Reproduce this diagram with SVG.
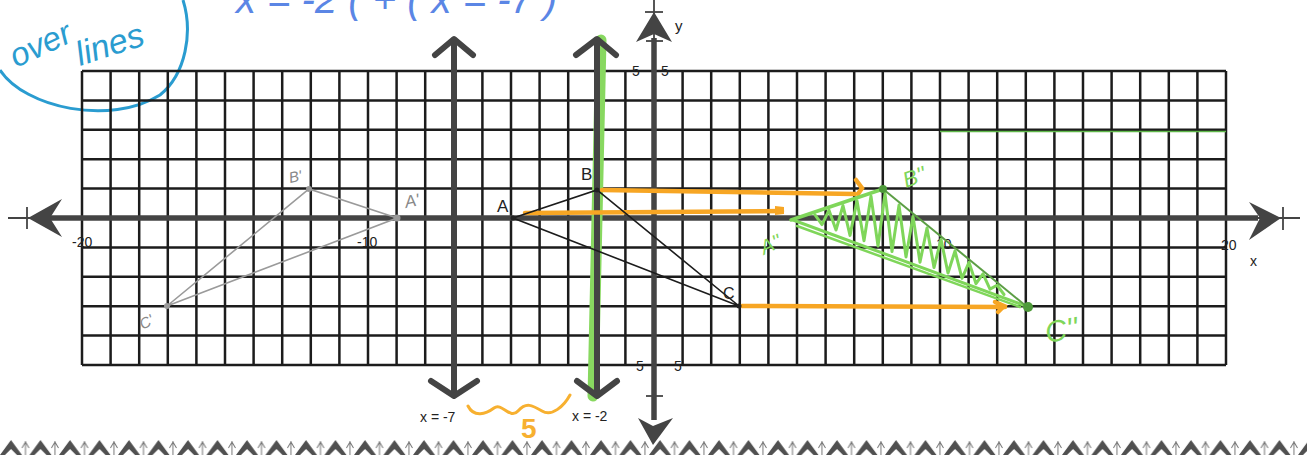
<svg xmlns="http://www.w3.org/2000/svg" width="1307" height="455" viewBox="0 0 1307 455">
<style>
.lbl{font-family:"Liberation Sans",Arial,sans-serif;fill:#222;}
.hand{font-family:"Liberation Sans",Arial,sans-serif;font-style:italic;}
.grid{fill:none;stroke:#1c1c1c;stroke-width:2.5;}
.axis{stroke:#444;stroke-width:5.5;fill:none;}
.thin{stroke:#444;stroke-width:1.8;fill:none;}
.head{fill:#444;}
.mirror{stroke:#444;stroke-width:6;fill:none;stroke-linecap:round;stroke-linejoin:round;}
.orange{stroke:#f7a624;stroke-width:4.5;fill:none;stroke-linecap:round;}
.green{stroke:#7fd65a;fill:none;stroke-linecap:round;stroke-linejoin:round;}
</style>
<defs>
<pattern id="border" x="0" y="438" width="29.5" height="17" patternUnits="userSpaceOnUse">
<polygon points="0,17 11,2 22,17 17,17 11,11 5,17" fill="#505050"/>
<path d="M25.5 3V17M22 10L25.5 4L29 10" stroke="#777" stroke-width="1" fill="none"/>
</pattern>
</defs>
<rect width="1307" height="455" fill="#fff"/>

<g id="annotation">
<path d="M0 70C25 108 110 126 160 95C186 74 193 32 183 0" fill="none" stroke="#2a9cd0" stroke-width="3"/>
<text class="hand" x="16" y="68" font-size="33" fill="#2a9cd0" transform="rotate(-25 16 68)">over</text>
<text class="hand" x="80" y="66" font-size="34" fill="#2a9cd0" transform="rotate(-18 80 66)">lines</text>
<text class="hand" x="236" y="13" font-size="40" fill="#5b86e5">x = -2 ( + ( x = -7 )</text>
</g>

<g id="grid">
<path class="grid" d="M82 71V365m28.6-294V365m28.6-294V365m28.6-294V365m28.6-294V365m28.6-294V365m28.6-294V365m28.6-294V365m28.6-294V365m28.6-294V365m28.6-294V365m28.6-294V365m28.6-294V365m28.6-294V365m28.6-294V365m28.6-294V365m28.6-294V365m28.6-294V365m28.6-294V365m28.6-294V365m28.6-294V365m28.6-294V365m28.6-294V365m28.6-294V365m28.6-294V365m28.6-294V365m28.6-294V365m28.6-294V365m28.6-294V365m28.6-294V365m28.6-294V365m28.6-294V365m28.6-294V365m28.6-294V365m28.6-294V365m28.6-294V365m28.6-294V365m28.6-294V365m28.6-294V365m28.6-294V365m28.6-294V365"/>
<path class="grid" d="M82 71H1226m-1144 29.4H1226m-1144 29.4H1226m-1144 29.4H1226m-1144 29.4H1226m-1144 29.4H1226m-1144 29.4H1226m-1144 29.4H1226m-1144 29.4H1226m-1144 29.4H1226m-1144 29.4H1226"/>
<path d="M940 131.5H1226" stroke="#5fb84a" stroke-width="1.5"/>
</g>

<g id="axes">
<line class="axis" x1="48" y1="218" x2="1258" y2="218"/>
<line class="thin" x1="8" y1="218" x2="50" y2="218"/>
<line class="thin" x1="27" y1="207" x2="27" y2="229"/>
<polygon class="head" points="28,218 62,199 50,218 62,237"/>
<line class="thin" x1="1255" y1="218" x2="1300" y2="218"/>
<line class="thin" x1="1283" y1="207" x2="1283" y2="230"/>
<polygon class="head" points="1281,218 1249,202 1260,218 1249,240"/>
<line class="axis" x1="654" y1="38" x2="654" y2="420"/>
<line class="thin" x1="654" y1="0" x2="654" y2="40"/>
<line class="thin" x1="645" y1="12" x2="663" y2="12"/>
<line class="thin" x1="646" y1="41" x2="663" y2="41"/>
<polygon class="head" points="654,12 636,42 654,34 672,42"/>
<line class="thin" x1="654" y1="395" x2="654" y2="420"/>
<line class="thin" x1="646" y1="396" x2="663" y2="396"/>
<polygon class="head" points="653,445 638,418 653,426 673,418"/>
<text class="lbl" x="675" y="31" font-size="15">y</text>
<text class="lbl" x="1250" y="266" font-size="14">x</text>
<text class="lbl" x="632" y="76" font-size="14">5</text>
<text class="lbl" x="661" y="76" font-size="14">5</text>
<text class="lbl" x="636" y="371" font-size="14">5</text>
<text class="lbl" x="674" y="371" font-size="14">5</text>
<text class="lbl" x="72" y="247" font-size="14">-20</text>
<text class="lbl" x="357" y="247" font-size="14">-10</text>
<text class="lbl" x="936" y="249" font-size="14">10</text>
<text class="lbl" x="1221" y="250" font-size="14">20</text>
</g>

<g id="mirror-lines">
<line x1="601" y1="40" x2="593" y2="396" stroke="#88d860" stroke-width="11" stroke-linecap="round"/>
<g id="line-x-7">
<line class="mirror" x1="454" y1="40" x2="454" y2="395"/>
<polyline class="mirror" points="435,55 454,39 473,55"/>
<polyline class="mirror" points="431,381 454,396 477,381"/>
<text class="lbl" x="420" y="422" font-size="14">x = -7</text>
</g>
<g id="line-x-2">
<line class="mirror" x1="597" y1="40" x2="597" y2="395"/>
<polyline class="mirror" points="576,55 597,39 616,55"/>
<polyline class="mirror" points="577,381 597,396 617,381"/>
<text class="lbl" x="572" y="421" font-size="14">x = -2</text>
</g>
<path d="M468 406C474 418 486 414 494 408S510 420 518 411S532 405 542 411S564 406 570 395" stroke="#f7b030" stroke-width="3" fill="none" stroke-linecap="round"/>
<text class="lbl" x="521" y="438" font-size="28" font-weight="bold" style="fill:#f7b030">5</text>
</g>

<g id="connectors">
<path class="orange" d="M602 190L855 194"/>
<path class="orange" d="M856 180L862 188L858 194"/>
<path class="orange" d="M525 213L782 211"/>
<path d="M775 206L784 207L784 214L775 215Z" fill="#f7a624"/>
<path class="orange" d="M742 306L1005 307"/>
<path class="orange" d="M995 302L1004 306L998 312"/>
</g>

<g id="triangle-ABC">
<polygon points="513,218 597,190 739,306" fill="none" stroke="#1c1c1c" stroke-width="1.6"/>
<circle cx="513" cy="218" r="2.5" fill="#222"/>
<circle cx="597" cy="190" r="2.5" fill="#222"/>
<circle cx="739" cy="306" r="2.5" fill="#222"/>
<text class="lbl" x="497" y="212" font-size="17">A</text>
<text class="lbl" x="581" y="180" font-size="17">B</text>
<text class="lbl" x="723" y="299" font-size="16">C</text>
</g>

<g id="triangle-A1B1C1">
<polygon points="397,218 309,189 167,306" fill="none" stroke="#9a9a9a" stroke-width="1.6"/>
<circle cx="397" cy="218" r="3.5" fill="#999"/>
<circle cx="309" cy="189" r="3" fill="#999"/>
<circle cx="167" cy="306" r="3" fill="#999"/>
<text class="hand" x="406" y="208" font-size="17" fill="#888" transform="rotate(-12 406 208)">A'</text>
<text class="hand" x="290" y="183" font-size="15" fill="#888" transform="rotate(-12 290 183)">B'</text>
<text class="hand" x="143" y="330" font-size="15" fill="#888" transform="rotate(-30 143 330)">C'</text>
</g>

<g id="triangle-A2B2C2">
<polyline class="green" stroke-width="3" points="815,214.9 822,224.6 829,210.2 836,230 843,205.5 850,235.4 857,200.8 864,240.7 871,196.1 878,246.1 885,193.6 892,251.5 899,205.1 906,256.9 913,216.5 920,262.2 927,228 934,267.6 941,239.4 948,273 955,250.9 962,278.4 969,262.3 976,283.7 983,273.8 990,289.1 997,285.2 1004,294.5"/>
<line class="green" stroke-width="3.5" x1="791" y1="220" x2="883" y2="189"/>
<line class="green" stroke-width="3" x1="793" y1="220" x2="1026" y2="306"/>
<line class="green" stroke-width="2.5" x1="797" y1="226" x2="1020" y2="307"/>
<line x1="883" y1="189" x2="1026" y2="306" stroke="#5c9e45" stroke-width="2"/>
<circle cx="883" cy="189" r="4" fill="#4e9a3a"/>
<circle cx="1028" cy="307" r="5" fill="#4e9a3a"/>
<text class="hand" x="764" y="255" font-size="20" fill="#7fd65a" transform="rotate(-25 764 255)">A''</text>
<text class="hand" x="906" y="188" font-size="22" fill="#7fd65a" transform="rotate(-20 906 188)">B''</text>
<text class="hand" x="1047" y="343" font-size="30" fill="#7fd65a" transform="rotate(-10 1047 343)">C''</text>
</g>

<rect id="bottom-border" x="0" y="438" width="1307" height="17" fill="url(#border)"/>
</svg>
